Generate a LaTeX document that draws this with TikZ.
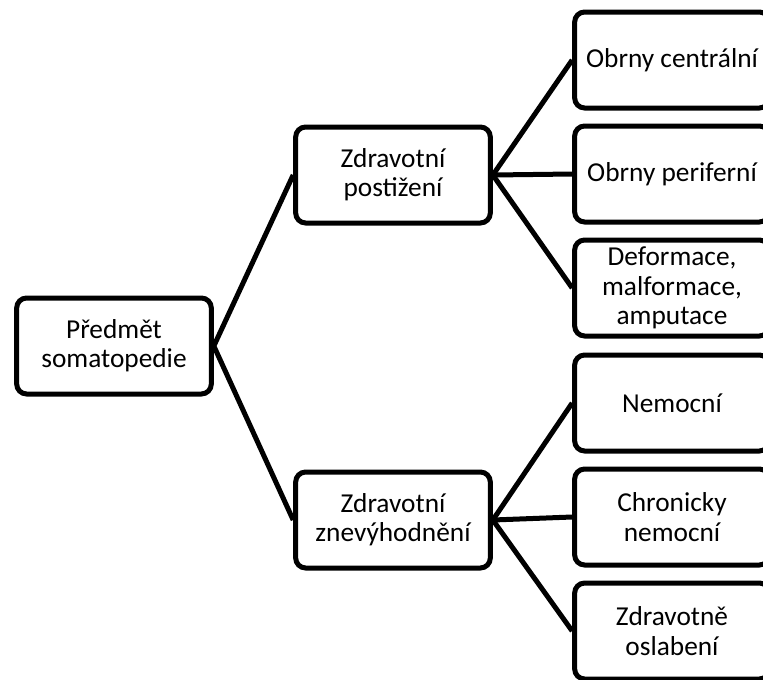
\documentclass[tikz,border=0pt]{standalone}
\usepackage{fontspec}
\setmainfont{Carlito}
\begin{document}
\begin{tikzpicture}[x=0.75pt,y=-0.75pt,
  box/.style={draw,line width=3.75pt,rounded corners=7.5pt,minimum width=146pt,minimum height=72pt,inner sep=0pt,align=center,font=\fontsize{20.5}{22}\selectfont},
  spoj/.style={line width=3.75pt}]
\useasboundingbox (0,0) rectangle (763,679);
\clip (0,0) rectangle (763,679);
\pgfmathsetmacro{\rx}{672}
\node[box] (P) at (114,346) {Předmět\\somatopedie};
\node[box] (ZP) at (393,175) {Zdravotní\\postižení};
\node[box] (ZZ) at (393,520) {Zdravotní\\znevýhodnění};
\node[box] (OC) at (\rx,60) {Obrny centrální};
\node[box] (OP) at (\rx,174) {Obrny periferní};
\node[box] (D) at (\rx,288) {Deformace,\\malformace,\\amputace};
\node[box] (N) at (\rx,403) {Nemocní};
\node[box] (CN) at (\rx,517) {Chronicky\\nemocní};
\node[box] (ZO) at (\rx,631) {Zdravotně\\oslabení};
\draw[spoj] (ZP.west) -- (P.east) -- (ZZ.west);
\foreach \n in {OC,OP,D} \draw[spoj] (ZP.east) -- (\n.west);
\foreach \n in {N,CN,ZO} \draw[spoj] (ZZ.east) -- (\n.west);
\end{tikzpicture}
\end{document}
